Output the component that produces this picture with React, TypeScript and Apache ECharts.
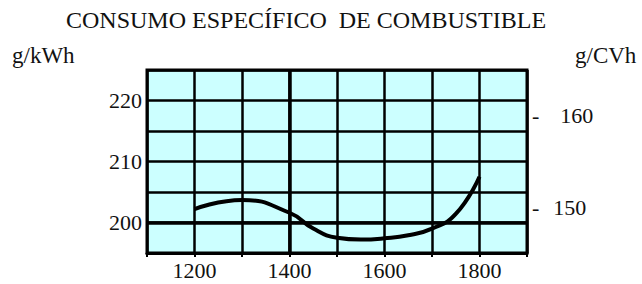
import React, { useEffect, useRef } from "react";
import * as echarts from "echarts";

const title = "CONSUMO ESPECÍFICO  DE COMBUSTIBLE";
const leftUnit = "g/kWh";
const rightUnit = "g/CVh";
const xLabels = [1200, 1400, 1600, 1800];
const leftLabels = [200, 210, 220];
const rightLabels = [150, 160];
const rpm = [1200, 1300, 1400, 1450, 1500, 1550, 1600, 1650, 1700, 1750, 1800];
const consumo = [202.2, 203.7, 201.6, 199.0, 197.5, 197.2, 197.4, 197.9, 199.0, 201.4, 207.5];

const FONT = "Times New Roman, Liberation Serif, DejaVu Serif, serif";

export default function App() {
  const ref = useRef<HTMLDivElement>(null);
  useEffect(() => {
    if (!ref.current) return;
    const chart = echarts.init(ref.current, null, { renderer: "svg" });
    const data = rpm.map((x, i) => [x, consumo[i]]);
    const txt = (text: string, left: number, top: number, size: number) => ({
      type: "text",
      left,
      top,
      style: { text, font: `${size}px ${FONT}`, fill: "#111" },
    });
    chart.setOption({
      animation: false,
      backgroundColor: "#ffffff",
      textStyle: { fontFamily: FONT },
      grid: {
        left: 147,
        right: 115,
        top: 70,
        bottom: 31,
        show: true,
        backgroundColor: "#ccffff",
        borderColor: "#000",
        borderWidth: 3,
      },
      graphic: [
        txt(title, 66, 8, 24),
        txt(leftUnit, 12, 44, 23),
        txt(rightUnit, 575, 44, 23),
      ],
      xAxis: {
        type: "value",
        min: 1100,
        max: 1900,
        interval: 100,
        axisLine: { show: true, lineStyle: { color: "#000", width: 3 } },
        axisTick: { show: true, length: 4, lineStyle: { color: "#000", width: 2 } },
        splitLine: { show: true, lineStyle: { color: "#000", width: 2.5 } },
        axisLabel: {
          margin: 6,
          fontFamily: FONT,
          fontSize: 22,
          color: "#111",
          formatter: (v: number) => (xLabels.includes(v) ? String(v) : ""),
        },
      },
      yAxis: [
        {
          type: "value",
          min: 195,
          max: 225,
          interval: 5,
          axisLine: { show: false },
          axisTick: { show: false },
          splitLine: { show: true, lineStyle: { color: "#000", width: 2.5 } },
          axisLabel: {
            margin: 5,
            fontFamily: FONT,
            fontSize: 22,
            color: "#111",
            formatter: (v: number) => (leftLabels.includes(v) ? String(v) : ""),
          },
        },
        {
          type: "value",
          min: 145,
          max: 165,
          interval: 5,
          position: "right",
          axisLine: { show: false },
          axisTick: { show: false },
          splitLine: { show: false },
          axisLabel: {
            margin: 5,
            fontFamily: FONT,
            fontSize: 22,
            color: "#111",
            formatter: (v: number) => {
              if (!rightLabels.includes(v)) return "";
              return v === 160 ? `{d|-}{a|${v}}` : `{d|-}{b|${v}}`;
            },
            rich: {
              d: { fontFamily: FONT, fontSize: 22, color: "#111" },
              a: { fontFamily: FONT, fontSize: 22, color: "#111", padding: [0, 0, 0, 21] },
              b: { fontFamily: FONT, fontSize: 22, color: "#111", padding: [0, 0, 0, 14] },
            },
          },
        },
      ],
      series: [
        {
          type: "line",
          data,
          smooth: 0.5,
          symbol: "none",
          lineStyle: { color: "#000", width: 4 },
          markLine: {
            silent: true,
            symbol: "none",
            label: { show: false },
            lineStyle: { color: "#000", width: 3.5, type: "solid" },
            data: [{ xAxis: 1400 }, { yAxis: 200 }],
          },
        },
      ],
    });
    return () => chart.dispose();
  }, []);
  return (
    <div
      ref={ref}
      style={{ position: "absolute", left: 0, top: 0, width: 642, height: 284 }}
    />
  );
}
